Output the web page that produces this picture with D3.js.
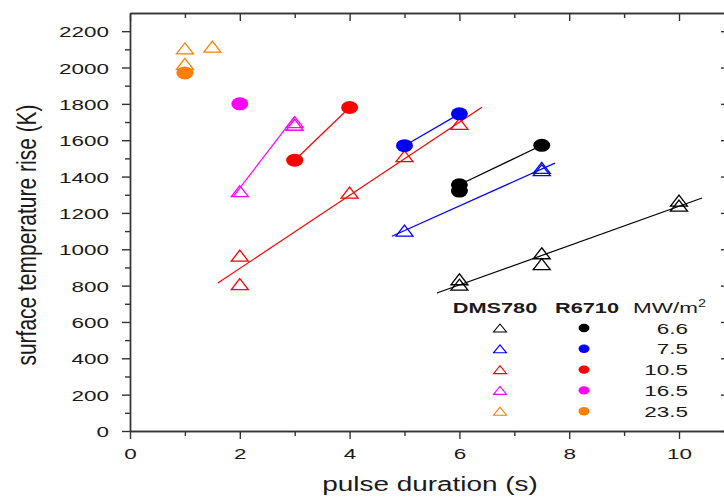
<!DOCTYPE html>
<html>
<head>
<meta charset="utf-8">
<script src="https://cdn.jsdelivr.net/npm/d3@7"></script>
<style>
  body { margin: 0; background: #fff; }
  text { font-family: "Liberation Sans", Arial, sans-serif; fill: #1a1a1a; }
</style>
</head>
<body>
<div class="card"></div>
<script>
const w = 724;
const h = 497;
const SX = 1.45; // the picture is stretched sideways

// power levels (MW/m^2) and their colours
const powers = ['6.6', '7.5', '10.5', '16.5', '23.5'];
const colors = ['#000000', '#0000ff', '#ff0000', '#ff00ff', '#ff8000'];

// DMS780 (open triangles): pulse duration, temperature rise, series index
const dmsX = [6, 6, 7.5, 7.5, 10, 10,   5, 7.5, 7.5,   2, 2, 4, 5, 6,   2, 3, 3,   1, 1.5, 1];
const dmsY = [835, 805, 978, 918, 1268, 1240,   1103, 1435, 1448,   965, 808, 1312, 1512, 1690,   1320, 1685, 1700,   2105, 2115, 2020];
const dmsS = [0, 0, 0, 0, 0, 0,   1, 1, 1,   2, 2, 2, 2, 2,   3, 3, 3,   4, 4, 4];

// R6710 (filled circles)
const rX = [6, 6, 7.5,   5, 6,   3, 4,   2,   1];
const rY = [1355, 1320, 1572,   1570, 1745,   1490, 1780,   1800,   1970];
const rS = [0, 0, 0,   1, 1,   2, 2,   3,   4];

// R6710 connecting lines (start/end points)
const rLineX0 = [6, 5, 3];
const rLineY0 = [1355, 1570, 1490];
const rLineX1 = [7.5, 6, 4];
const rLineY1 = [1572, 1745, 1780];
const rLineS = [0, 1, 2];

// DMS780 fitted lines (start/end points)
const fitX0 = [5.59, 4.77, 1.60, 1.88];
const fitY0 = [759, 1072, 814, 1290];
const fitX1 = [10.42, 7.74, 6.41, 3.0];
const fitY1 = [1282, 1474, 1782, 1730];
const fitS = [0, 1, 2, 3];

// axis ticks
const xMajor = [0, 2, 4, 6, 8, 10];
const xMinor = [1, 3, 5, 7, 9];
const yMajor = [0, 200, 400, 600, 800, 1000, 1200, 1400, 1600, 1800, 2000, 2200];
const yMinor = [100, 300, 500, 700, 900, 1100, 1300, 1500, 1700, 1900, 2100];

var svg = d3.select(".card")
  .append("svg")
  .attr("width", w)
  .attr("height", h);

svg.append("rect").attr("width", w).attr("height", h).attr("fill", "#fff");

var xScale = d3.scaleLinear().domain([0, 10.856]).range([130, 726]);
var yScale = d3.scaleLinear().domain([0, 2300]).range([431, 13]);

function styleAxis(g) {
  g.selectAll("path").attr("stroke", "#333").attr("stroke-width", 1.4);
  g.selectAll("line").attr("stroke", "#333").attr("stroke-width", 1.4);
  g.attr("font-family", null).attr("font-size", null);
}

// bottom
var gb = svg.append("g").attr("transform", "translate(0,431)")
  .call(d3.axisBottom(xScale).tickValues(xMajor).tickSize(8).tickSizeOuter(0).tickFormat(d3.format("d")))
  .call(styleAxis);
gb.selectAll("text")
  .attr("y", null).attr("dy", null)
  .attr("transform", "translate(0,27.5) scale(" + SX + ",1)")
  .style("font-size", "15.5px");
svg.append("g").attr("transform", "translate(0,431)")
  .call(d3.axisBottom(xScale).tickValues(xMinor).tickSize(5).tickSizeOuter(0).tickFormat(""))
  .call(styleAxis);

// left
var gl = svg.append("g").attr("transform", "translate(130,0)")
  .call(d3.axisLeft(yScale).tickValues(yMajor).tickSize(8).tickSizeOuter(0).tickFormat(d3.format("d")))
  .call(styleAxis);
gl.selectAll("text")
  .attr("x", null).attr("dy", null)
  .attr("transform", "translate(-21,5.5) scale(" + SX + ",1)")
  .style("font-size", "15.5px");
svg.append("g").attr("transform", "translate(130,0)")
  .call(d3.axisLeft(yScale).tickValues(yMinor).tickSize(5).tickSizeOuter(0).tickFormat(""))
  .call(styleAxis);

// top
svg.append("g").attr("transform", "translate(0,13)")
  .call(d3.axisTop(xScale).tickValues(xMajor).tickSize(-8).tickSizeOuter(0).tickFormat(""))
  .call(styleAxis);
svg.append("g").attr("transform", "translate(0,13)")
  .call(d3.axisTop(xScale).tickValues(xMinor).tickSize(-5).tickSizeOuter(0).tickFormat(""))
  .call(styleAxis);

// right
svg.append("g").attr("transform", "translate(726,0)")
  .call(d3.axisRight(yScale).tickValues(yMajor).tickSize(-5).tickSizeOuter(0).tickFormat(""))
  .call(styleAxis);

// axis titles
svg.append("text")
  .attr("transform", "translate(430,491) scale(1.33,1)")
  .attr("text-anchor", "middle")
  .style("font-size", "21px")
  .text("pulse duration (s)");

svg.append("text")
  .attr("transform", "translate(36,235) rotate(-90) scale(1,1.33)")
  .attr("text-anchor", "middle")
  .style("font-size", "21px")
  .text("surface temperature rise (K)");

// fitted lines
svg.selectAll(".fit")
  .data(fitS)
  .enter().append("line")
  .attr("class", "fit")
  .attr("x1", (d, i) => xScale(fitX0[i]))
  .attr("y1", (d, i) => yScale(fitY0[i]))
  .attr("x2", (d, i) => xScale(fitX1[i]))
  .attr("y2", (d, i) => yScale(fitY1[i]))
  .attr("stroke", d => colors[d])
  .attr("stroke-width", 1.2);

svg.selectAll(".rline")
  .data(rLineS)
  .enter().append("line")
  .attr("class", "rline")
  .attr("x1", (d, i) => xScale(rLineX0[i]))
  .attr("y1", (d, i) => yScale(rLineY0[i]))
  .attr("x2", (d, i) => xScale(rLineX1[i]))
  .attr("y2", (d, i) => yScale(rLineY1[i]))
  .attr("stroke", d => colors[d])
  .attr("stroke-width", 1.2);

// triangle path, width 2*hw, height 2*hh
function tri(hw, hh) {
  return "M0," + (-hh) + "L" + hw + "," + hh + "L" + (-hw) + "," + hh + "Z";
}

svg.selectAll(".dms")
  .data(dmsS)
  .enter().append("path")
  .attr("class", "dms")
  .attr("d", tri(8.5, 5.5))
  .attr("transform", (d, i) => "translate(" + xScale(dmsX[i]) + "," + yScale(dmsY[i]) + ")")
  .attr("fill", "none")
  .attr("stroke", d => colors[d])
  .attr("stroke-width", 1.3);

svg.selectAll(".r6710")
  .data(rS)
  .enter().append("ellipse")
  .attr("class", "r6710")
  .attr("cx", (d, i) => xScale(rX[i]))
  .attr("cy", (d, i) => yScale(rY[i]))
  .attr("rx", 8.5)
  .attr("ry", 6.5)
  .attr("fill", d => colors[d]);

// legend
var lg = svg.append("g");
lg.append("text").attr("transform", "translate(495,313) scale(" + SX + ",1)")
  .attr("text-anchor", "middle").style("font-size", "15px").style("font-weight", "bold")
  .text("DMS780");
lg.append("text").attr("transform", "translate(587,313) scale(" + SX + ",1)")
  .attr("text-anchor", "middle").style("font-size", "15px").style("font-weight", "bold")
  .text("R6710");
var mw = lg.append("text").attr("transform", "translate(633,313) scale(" + SX + ",1)")
  .style("font-size", "15.5px");
mw.append("tspan").text("MW/m");
mw.append("tspan").attr("dy", -6).style("font-size", "10px").text("2");

var rows = lg.selectAll(".row")
  .data(powers)
  .enter().append("g")
  .attr("class", "row")
  .attr("transform", (d, i) => "translate(0," + (328 + i * 20.8) + ")");
rows.append("path")
  .attr("d", tri(6.5, 4))
  .attr("transform", "translate(500,0)")
  .attr("fill", "none")
  .attr("stroke", (d, i) => colors[i])
  .attr("stroke-width", 1.1);
rows.append("ellipse")
  .attr("cx", 584).attr("cy", 0)
  .attr("rx", 5.5).attr("ry", 4.2)
  .attr("fill", (d, i) => colors[i]);
rows.append("text")
  .attr("transform", "translate(688,5.5) scale(" + SX + ",1)")
  .attr("text-anchor", "end")
  .style("font-size", "15.5px")
  .text(d => d);
</script>
</body>
</html>
